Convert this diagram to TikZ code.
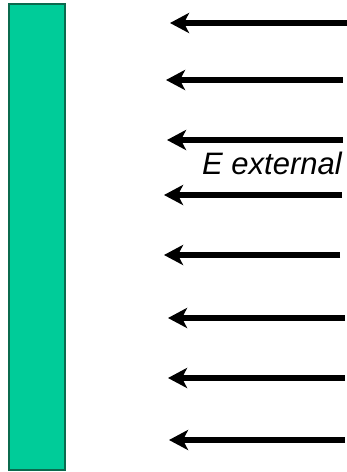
\documentclass[tikz,border=0pt]{standalone}
\usepackage{fontspec}
\setmainfont{Liberation Sans}
\usetikzlibrary{arrows.meta}
\definecolor{platefill}{HTML}{00CC99}
\definecolor{plateedge}{HTML}{0B6A4E}
\tikzset{
  plate/.style={fill=platefill, draw=plateedge, line width=1.5pt},
  field/.style={line width=6pt, -{Stealth[length=19pt,width=20pt,inset=5pt]}},
  lbl/.style={font=\fontsize{31}{31}\selectfont\itshape, inner sep=0pt}
}
\begin{document}
\begin{tikzpicture}[x=1pt,y=-1pt]
\useasboundingbox (0,0) rectangle (347,472);
\node[plate, minimum width=56pt, minimum height=466pt, inner sep=0pt, anchor=north west] (plate) at (8,3) {};
\foreach \i/\y/\t/\e in {1/23/170/347, 2/80/166/343, 3/140/167/343, 4/195/164/342, 5/255/164/340, 6/318/168/345, 7/378/168/345, 8/440/169/345}{
  \coordinate (s\i) at (\e,\y);
  \coordinate (h\i) at (\t,\y);
  \draw[field] (s\i) -- (h\i);
}
\node[lbl, anchor=base west] (E) at (202,174) {E external};
\end{tikzpicture}
\end{document}
